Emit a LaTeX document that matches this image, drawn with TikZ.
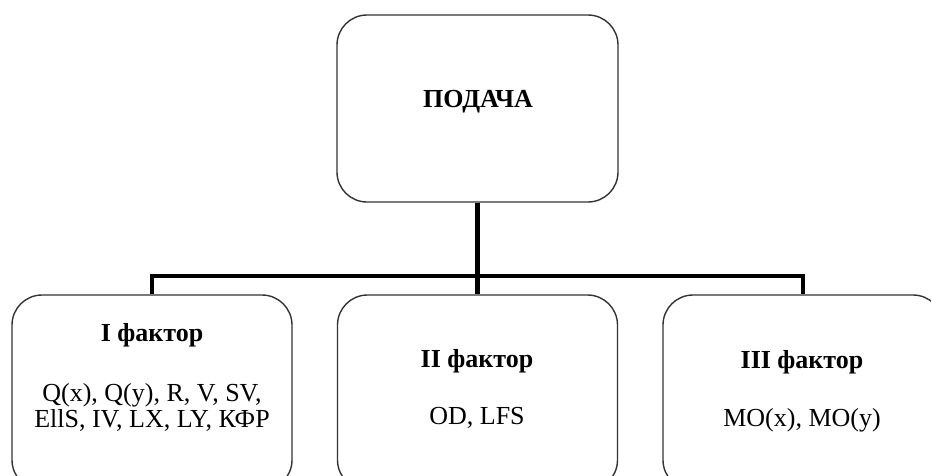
\documentclass[tikz,border=0pt]{standalone}
\usepackage{fontspec}
\setmainfont{Liberation Serif}
\begin{document}
\begin{tikzpicture}[x=1pt,y=-1pt,
  box/.style={draw=black!80, line width=1.4pt, rounded corners=30pt, inner sep=0pt},
  conn/.style={line width=4.5pt, black, line join=miter},
  hdr/.style={font=\fontsize{26}{26}\selectfont\bfseries, anchor=base, inner sep=0pt},
  body/.style={font=\fontsize{26}{26}\selectfont, anchor=base, inner sep=0pt}]
\useasboundingbox (0,0) rectangle (931,475);
\clip (0,0) rectangle (931,475);
\node[box, minimum width=281pt, minimum height=187pt] (top) at (477.5,108.5) {};
\node[box, minimum width=280pt, minimum height=195pt] (f1) at (152,392.5) {};
\node[box, minimum width=280pt, minimum height=195pt] (f2) at (477.5,392.5) {};
\node[box, minimum width=280pt, minimum height=195pt] (f3) at (803,392.5) {};
\coordinate (busL) at (152,276);
\coordinate (busR) at (803,276);
\coordinate (busM) at (top.south |- busL);
\draw[conn] (top.south) -- (busM);
\draw[conn] (f1.north) -- (busL) -- (busR) -- (f3.north);
\draw[conn] (busM) -- (f2.north);
\node[hdr] (t0) at (478,107) {ПОДАЧА};
\node[hdr] (h1) at (152,341) {I фактор};
\node[body] (b1a) at (152,401) {Q(x), Q(y), R, V, SV,};
\node[body] (b1b) at (152,427) {EllS, IV, LX, LY, КФР};
\node[hdr] (h2) at (477,367) {II фактор};
\node[body] (b2) at (477,424) {OD, LFS};
\node[hdr] (h3) at (802,368) {III фактор};
\node[body] (b3) at (802,426) {MO(x), MO(y)};
\end{tikzpicture}
\end{document}
